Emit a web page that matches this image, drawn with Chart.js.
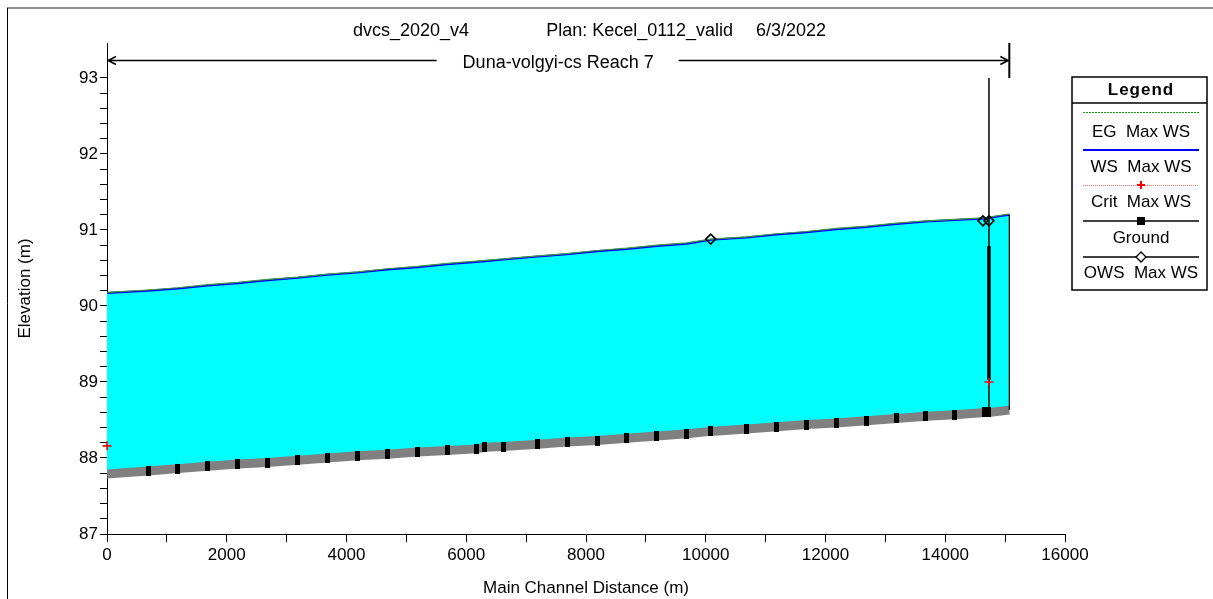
<!DOCTYPE html>
<html>
<head>
<meta charset="utf-8">
<script src="https://cdn.jsdelivr.net/npm/chart.js@4.4.1/dist/chart.umd.min.js"></script>
<style>
  html, body { margin: 0; padding: 0; background: #fff; }
  #wrap { width: 1213px; height: 599px; }
</style>
</head>
<body>
<div id="wrap"><canvas id="c" width="1213" height="599"></canvas></div>
<script>
// ---- data ----
const titleParts = ['dvcs_2020_v4', 'Plan: Kecel_0112_valid', '6/3/2022'];
const reachLabel = 'Duna-volgyi-cs Reach 7';
const xAxisTitle = 'Main Channel Distance (m)';
const yAxisTitle = 'Elevation (m)';
const legendLabels = ['EG  Max WS', 'WS  Max WS', 'Crit  Max WS', 'Ground', 'OWS  Max WS'];

const stations = [0, 685, 1185, 1685, 2185, 2685, 3185, 3685, 4185, 4685, 5185, 5685, 6163, 6313, 6614, 7198, 7683, 8184, 8684, 9184, 9684, 10083, 10684, 11184, 11684, 12184, 12684, 13184, 13678, 14162, 14663, 14730, 15070];
const groundElev = [87.79, 87.83, 87.86, 87.89, 87.92, 87.94, 87.97, 88.00, 88.03, 88.05, 88.08, 88.10, 88.12, 88.14, 88.15, 88.18, 88.21, 88.23, 88.26, 88.29, 88.32, 88.35, 88.38, 88.41, 88.44, 88.46, 88.49, 88.52, 88.55, 88.57, 88.60, 88.60, 88.63];
const wsElev = [90.17, 90.20, 90.23, 90.27, 90.30, 90.34, 90.37, 90.41, 90.44, 90.48, 90.51, 90.55, 90.58, 90.59, 90.61, 90.65, 90.68, 90.72, 90.75, 90.79, 90.82, 90.87, 90.90, 90.94, 90.97, 91.01, 91.04, 91.08, 91.11, 91.13, 91.15, 91.16, 91.20];
const egElev = [90.18, 90.21, 90.24, 90.28, 90.31, 90.35, 90.38, 90.42, 90.45, 90.49, 90.52, 90.56, 90.59, 90.60, 90.62, 90.66, 90.69, 90.73, 90.76, 90.80, 90.83, 90.88, 90.91, 90.95, 90.98, 91.02, 91.05, 91.09, 91.12, 91.14, 91.16, 91.17, 91.21];

const critX = [0, 14730];
const critY = [88.16, 89.00];
const owsX = [10083, 14630, 14730];
const owsY = [90.88, 91.12, 91.12];

const structX = 14730;
const structThin = [93.0, 88.60];
const structThick = [90.79, 89.03];
const reachEnd = 15070;
const endLine = [91.20, 88.63];

const xMin = 0, xMax = 16000, xStep = 1000, xLabelStep = 2000;
const yMin = 87, yMax = 93.46, yTop = 93, yStep = 0.2;

// ---- build ----
const FONT = '"Liberation Sans", Arial, Helvetica, sans-serif';
const pts = (xs, ys) => xs.map((x, i) => ({ x: x, y: ys[i] }));

const markCanvas = document.createElement('canvas');
markCanvas.width = 5; markCanvas.height = 10;
(function () { const m = markCanvas.getContext('2d'); m.fillStyle = '#000'; m.fillRect(0, 0, 5, 10); })();

const datasets = [
  { label: 'OWS', data: pts(owsX, owsY), showLine: false, pointStyle: 'rectRot', pointRadius: 5, clip: false,
    borderColor: '#000', backgroundColor: 'rgba(0,0,0,0)', pointBorderWidth: 1.6 },
  { label: 'Crit', data: pts(critX, critY), showLine: false, pointStyle: 'cross', pointRadius: 4.5, clip: false,
    borderColor: '#ff0000', backgroundColor: '#ff0000', pointBorderWidth: 1.6 },
  { label: 'structThin', data: pts([structX, structX], structThin), borderColor: '#000', borderWidth: 1.5, pointRadius: 0 },
  { label: 'structThick', data: pts([structX, structX], structThick), borderColor: '#000', borderWidth: 3.5, pointRadius: 0 },
  { label: 'endLine', data: pts([reachEnd, reachEnd], endLine), borderColor: '#000', borderWidth: 1.2, pointRadius: 0 },
  { label: 'Ground', data: pts(stations, groundElev), borderColor: '#808080', borderWidth: 9,
    pointStyle: markCanvas, pointRadius: (c) => (c.dataIndex === 0 || c.dataIndex === stations.length - 1) ? 0 : 4 },
  { label: 'EG', data: pts(stations, egElev), borderColor: '#3c9a3c', borderWidth: 1.2, pointRadius: 0 },
  { label: 'WS', data: pts(stations, wsElev), borderColor: '#0000ff', borderWidth: 2, pointRadius: 0,
    fill: { target: 5 }, backgroundColor: '#00ffff' }
];

function drawLegend(ctx) {
  const L = 1072, R = 1207, T = 77, B = 290, cx = 1141, sx0 = 1083, sx1 = 1199;
  ctx.save();
  ctx.fillStyle = '#fff'; ctx.fillRect(L, T, R - L, B - T);
  ctx.strokeStyle = '#000'; ctx.lineWidth = 1.5;
  ctx.strokeRect(L, T, R - L, B - T);
  ctx.beginPath(); ctx.moveTo(L, 103); ctx.lineTo(R, 103); ctx.stroke();
  ctx.fillStyle = '#000'; ctx.textAlign = 'center'; ctx.textBaseline = 'middle';
  ctx.font = 'bold 17px ' + FONT;
  try { ctx.letterSpacing = '1px'; } catch (e) {}
  ctx.fillText('Legend', cx, 90);
  try { ctx.letterSpacing = '0px'; } catch (e) {}
  ctx.font = '17px ' + FONT;
  const textY = [132, 167, 202, 238, 273];
  legendLabels.forEach((t, i) => ctx.fillText(t, cx, textY[i]));
  // EG sample
  ctx.strokeStyle = '#1a9a1a'; ctx.lineWidth = 1; ctx.setLineDash([2, 1]);
  ctx.beginPath(); ctx.moveTo(sx0, 112.5); ctx.lineTo(sx1, 112.5); ctx.stroke();
  // WS sample
  ctx.setLineDash([]); ctx.strokeStyle = '#0000ff'; ctx.lineWidth = 2;
  ctx.beginPath(); ctx.moveTo(sx0, 150); ctx.lineTo(sx1, 150); ctx.stroke();
  // Crit sample
  ctx.strokeStyle = '#ff7070'; ctx.lineWidth = 1; ctx.setLineDash([1, 1]);
  ctx.beginPath(); ctx.moveTo(sx0, 185.5); ctx.lineTo(sx1, 185.5); ctx.stroke();
  ctx.setLineDash([]); ctx.strokeStyle = '#ff0000'; ctx.lineWidth = 2;
  ctx.beginPath(); ctx.moveTo(cx - 4, 185); ctx.lineTo(cx + 4, 185); ctx.moveTo(cx, 181); ctx.lineTo(cx, 189); ctx.stroke();
  // Ground sample
  ctx.strokeStyle = '#000'; ctx.lineWidth = 1.5;
  ctx.beginPath(); ctx.moveTo(sx0, 221); ctx.lineTo(sx1, 221); ctx.stroke();
  ctx.fillStyle = '#000'; ctx.fillRect(cx - 4, 217, 8, 8);
  // OWS sample
  ctx.beginPath(); ctx.moveTo(sx0, 257); ctx.lineTo(sx1, 257); ctx.stroke();
  ctx.fillStyle = '#fff'; ctx.lineWidth = 1.4;
  ctx.beginPath(); ctx.moveTo(cx, 252); ctx.lineTo(cx + 5, 257); ctx.lineTo(cx, 262); ctx.lineTo(cx - 5, 257); ctx.closePath();
  ctx.fill(); ctx.stroke();
  ctx.restore();
}

const decor = {
  id: 'decor',
  beforeDraw(chart) {
    const ctx = chart.ctx;
    ctx.save();
    ctx.fillStyle = '#fff'; ctx.fillRect(0, 0, chart.width, chart.height);
    ctx.strokeStyle = '#8c8c8c'; ctx.lineWidth = 2;
    ctx.beginPath(); ctx.moveTo(7, 8); ctx.lineTo(chart.width, 8); ctx.stroke();
    ctx.strokeStyle = '#000'; ctx.lineWidth = 1;
    ctx.beginPath(); ctx.moveTo(7.5, 8); ctx.lineTo(7.5, chart.height); ctx.stroke();
    ctx.restore();
  },
  afterDraw(chart) {
    const ctx = chart.ctx, xs = chart.scales.x, ys = chart.scales.y, area = chart.chartArea;
    ctx.save();
    // title
    ctx.fillStyle = '#000'; ctx.textBaseline = 'middle';
    ctx.font = '18px ' + FONT;
    ctx.textAlign = 'left'; ctx.fillText(titleParts[0], 353, 31);
    ctx.textAlign = 'right'; ctx.fillText(titleParts[1], 733, 31);
    ctx.textAlign = 'left'; ctx.fillText(titleParts[2], 756, 31);
    // reach arrow
    const x0 = xs.getPixelForValue(0), x1 = xs.getPixelForValue(reachEnd), ay = 60.5;
    const cx = (x0 + x1) / 2;
    const tw = ctx.measureText(reachLabel).width;
    ctx.textAlign = 'center';
    ctx.fillText(reachLabel, cx, 63);
    ctx.strokeStyle = '#000'; ctx.lineWidth = 1.5;
    ctx.beginPath();
    ctx.moveTo(x0, ay); ctx.lineTo(cx - tw / 2 - 26, ay);
    ctx.moveTo(cx + tw / 2 + 25, ay); ctx.lineTo(x1, ay);
    ctx.moveTo(x0 + 9, ay - 4); ctx.lineTo(x0 + 1, ay); ctx.lineTo(x0 + 9, ay + 4);
    ctx.moveTo(x1 - 9, ay - 4); ctx.lineTo(x1 - 1, ay); ctx.lineTo(x1 - 9, ay + 4);
    ctx.stroke();
    ctx.lineWidth = 2;
    ctx.beginPath(); ctx.moveTo(x1, area.top); ctx.lineTo(x1, ys.getPixelForValue(yTop)); ctx.stroke();
    ctx.restore();
    drawLegend(ctx);
  }
};

new Chart(document.getElementById('c'), {
  type: 'line',
  data: { datasets: datasets },
  plugins: [decor],
  options: {
    responsive: false,
    animation: false,
    events: [],
    elements: { line: { tension: 0 } },
    layout: { padding: { left: 15, top: 43, right: 148, bottom: 0 } },
    plugins: { legend: { display: false }, tooltip: { enabled: false }, title: { display: false } },
    scales: {
      x: {
        type: 'linear', min: xMin, max: xMax, position: 'bottom',
        afterFit: (s) => { s.height = 65; },
        grid: { drawOnChartArea: false, drawTicks: true, tickLength: 8, color: '#000', tickColor: '#000', tickWidth: 1 },
        border: { display: true, color: '#000', width: 1 },
        ticks: { stepSize: xStep, autoSkip: false, maxRotation: 0, padding: 3, color: '#000',
          font: { family: FONT, size: 17 },
          callback: (v) => (Math.abs(v % xLabelStep) < 1e-6 ? String(v) : '') },
        title: { display: true, text: xAxisTitle, color: '#000', font: { family: FONT, size: 17 }, padding: 0 }
      },
      y: {
        type: 'linear', min: yMin, max: yMax,
        afterFit: (s) => { s.width = 92; },
        afterBuildTicks: (s) => { s.ticks = s.ticks.filter((t) => t.value <= yTop + 1e-4); },
        grid: { drawOnChartArea: false, drawTicks: true, tickLength: 7, color: '#000', tickColor: '#000', tickWidth: 1 },
        border: { display: true, color: '#000', width: 1 },
        ticks: { stepSize: yStep, autoSkip: false, padding: 2, color: '#000',
          font: { family: FONT, size: 17 },
          callback: (v) => (Math.abs(v - Math.round(v)) < 1e-6 ? String(Math.round(v)) : '') },
        title: { display: true, text: yAxisTitle, color: '#000', font: { family: FONT, size: 17 }, padding: 0 }
      }
    }
  }
});
</script>
</body>
</html>
